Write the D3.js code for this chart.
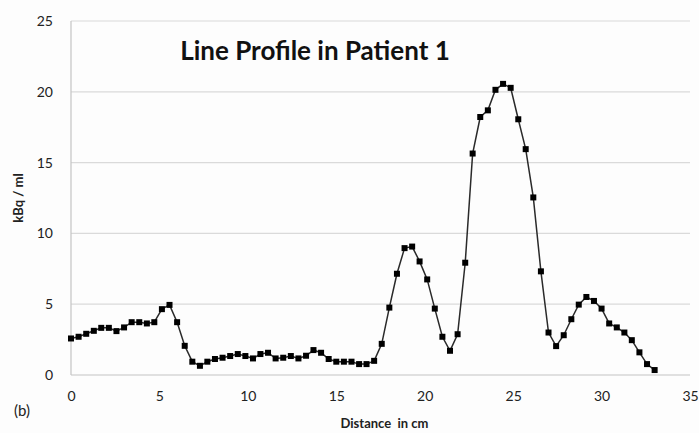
<!DOCTYPE html>
<html>
<head>
<meta charset="utf-8">
<script src="https://cdn.jsdelivr.net/npm/d3@7"></script>
<style>
  body { margin: 0; background: #fdfdfd; }
  svg { display: block; font-family: Lato, "Open Sans", sans-serif; }
</style>
</head>
<body>
<div id="chart"></div>
<script>
/* CONSTANTS AND GLOBALS */
const width = 699,
  height = 433,
  margin = { top: 21, bottom: 58, left: 71, right: 9 };

/* DATA */
// distance along the profile (cm)
const distance = [
  0.00, 0.43, 0.86, 1.29, 1.71, 2.14, 2.57, 3.00, 3.43, 3.86,
  4.29, 4.71, 5.14, 5.57, 6.00, 6.43, 6.86, 7.29, 7.71, 8.14,
  8.57, 9.00, 9.43, 9.86, 10.29, 10.71, 11.14, 11.57, 12.00, 12.43,
  12.86, 13.29, 13.71, 14.14, 14.57, 15.00, 15.43, 15.86, 16.29, 16.71,
  17.14, 17.57, 18.00, 18.43, 18.86, 19.29, 19.71, 20.14, 20.57, 21.00,
  21.43, 21.86, 22.29, 22.71, 23.14, 23.57, 24.00, 24.43, 24.86, 25.29,
  25.71, 26.14, 26.57, 27.00, 27.43, 27.86, 28.29, 28.71, 29.14, 29.57,
  30.00, 30.43, 30.86, 31.29, 31.71, 32.14, 32.57, 33.00
];
// activity concentration (kBq / ml)
const activity = [
  2.58, 2.70, 2.91, 3.12, 3.33, 3.33, 3.10, 3.36, 3.73, 3.73,
  3.64, 3.73, 4.65, 4.95, 3.73, 2.06, 0.94, 0.65, 0.94, 1.13,
  1.22, 1.34, 1.48, 1.34, 1.17, 1.48, 1.57, 1.17, 1.22, 1.34,
  1.17, 1.36, 1.76, 1.57, 1.13, 0.94, 0.94, 0.94, 0.77, 0.77,
  1.00, 2.20, 4.76, 7.15, 8.96, 9.07, 8.02, 6.75, 4.69, 2.70,
  1.71, 2.88, 7.93, 15.64, 18.22, 18.69, 20.14, 20.56, 20.28, 18.06,
  15.95, 12.54, 7.32, 3.00, 2.04, 2.81, 3.94, 4.97, 5.51, 5.23,
  4.69, 3.64, 3.36, 3.00, 2.46, 1.60, 0.77, 0.35
];
const xTicks = [0, 5, 10, 15, 20, 25, 30, 35];
const yTicks = [0, 5, 10, 15, 20, 25];

const title = "Line Profile in Patient 1";
const xTitle = "Distance  in cm";
const yTitle = "kBq / ml";
const panelLabel = "(b)";

const data = distance.map((d, i) => ({ x: d, y: activity[i] }));

/* SCALES */
const xScale = d3.scaleLinear()
  .domain([0, 35])
  .range([margin.left, width - margin.right]);

const yScale = d3.scaleLinear()
  .domain([0, 25])
  .range([height - margin.bottom, margin.top]);

/* SVG */
const svg = d3.select("#chart")
  .append("svg")
  .attr("width", width)
  .attr("height", height);

svg.append("rect")
  .attr("width", width)
  .attr("height", height)
  .attr("fill", "#fdfdfd");

// gridlines
svg.append("g")
  .selectAll("line")
  .data(yTicks)
  .join("line")
  .attr("x1", margin.left)
  .attr("x2", width - margin.right)
  .attr("y1", d => yScale(d))
  .attr("y2", d => yScale(d))
  .attr("stroke", d => d === 0 ? "#c4c4c4" : "#dadada")
  .attr("stroke-width", 1.2);

// left axis line
svg.append("line")
  .attr("x1", margin.left)
  .attr("x2", margin.left)
  .attr("y1", yScale(25))
  .attr("y2", yScale(0))
  .attr("stroke", "#c4c4c4")
  .attr("stroke-width", 1.2);

// AXES
const xAxis = d3.axisBottom(xScale).tickValues(xTicks).tickSize(0).tickPadding(16);
const yAxis = d3.axisLeft(yScale).tickValues(yTicks).tickSize(0).tickPadding(18);

svg.append("g")
  .attr("transform", `translate(0, ${height - margin.bottom})`)
  .call(xAxis)
  .call(g => g.select(".domain").remove())
  .selectAll("text")
  .attr("font-size", 14)
  .attr("font-family", "Lato, sans-serif")
  .attr("fill", "#222");

svg.append("g")
  .attr("transform", `translate(${margin.left}, 0)`)
  .call(yAxis)
  .call(g => g.select(".domain").remove())
  .selectAll("text")
  .attr("font-size", 14)
  .attr("font-family", "Lato, sans-serif")
  .attr("fill", "#222");

// LINE
const line = d3.line()
  .x(d => xScale(d.x))
  .y(d => yScale(d.y));

svg.append("path")
  .datum(data)
  .attr("fill", "none")
  .attr("stroke", "#2a2a2a")
  .attr("stroke-width", 1.5)
  .attr("d", line);

// MARKERS
const s = 6;
svg.append("g")
  .selectAll("rect")
  .data(data)
  .join("rect")
  .attr("x", d => xScale(d.x) - s / 2)
  .attr("y", d => yScale(d.y) - s / 2)
  .attr("width", s)
  .attr("height", s)
  .attr("fill", "#000");

// TITLES
svg.append("text")
  .attr("x", 315)
  .attr("y", 60)
  .attr("text-anchor", "middle")
  .attr("font-size", 26)
  .attr("font-weight", "bold")
  .attr("fill", "#111")
  .text(title);

svg.append("text")
  .attr("x", (margin.left + width - margin.right) / 2 + 4)
  .attr("y", 428)
  .attr("text-anchor", "middle")
  .attr("font-size", 13)
  .attr("font-weight", "bold")
  .attr("fill", "#222")
  .style("white-space", "pre")
  .text(xTitle);

svg.append("text")
  .attr("transform", `translate(23, ${(margin.top + height - margin.bottom) / 2}) rotate(-90)`)
  .attr("text-anchor", "middle")
  .attr("font-size", 13)
  .attr("font-weight", "bold")
  .attr("fill", "#222")
  .text(yTitle);

svg.append("text")
  .attr("x", 14)
  .attr("y", 416)
  .attr("font-size", 15)
  .attr("fill", "#222")
  .text(panelLabel);
</script>
</body>
</html>
